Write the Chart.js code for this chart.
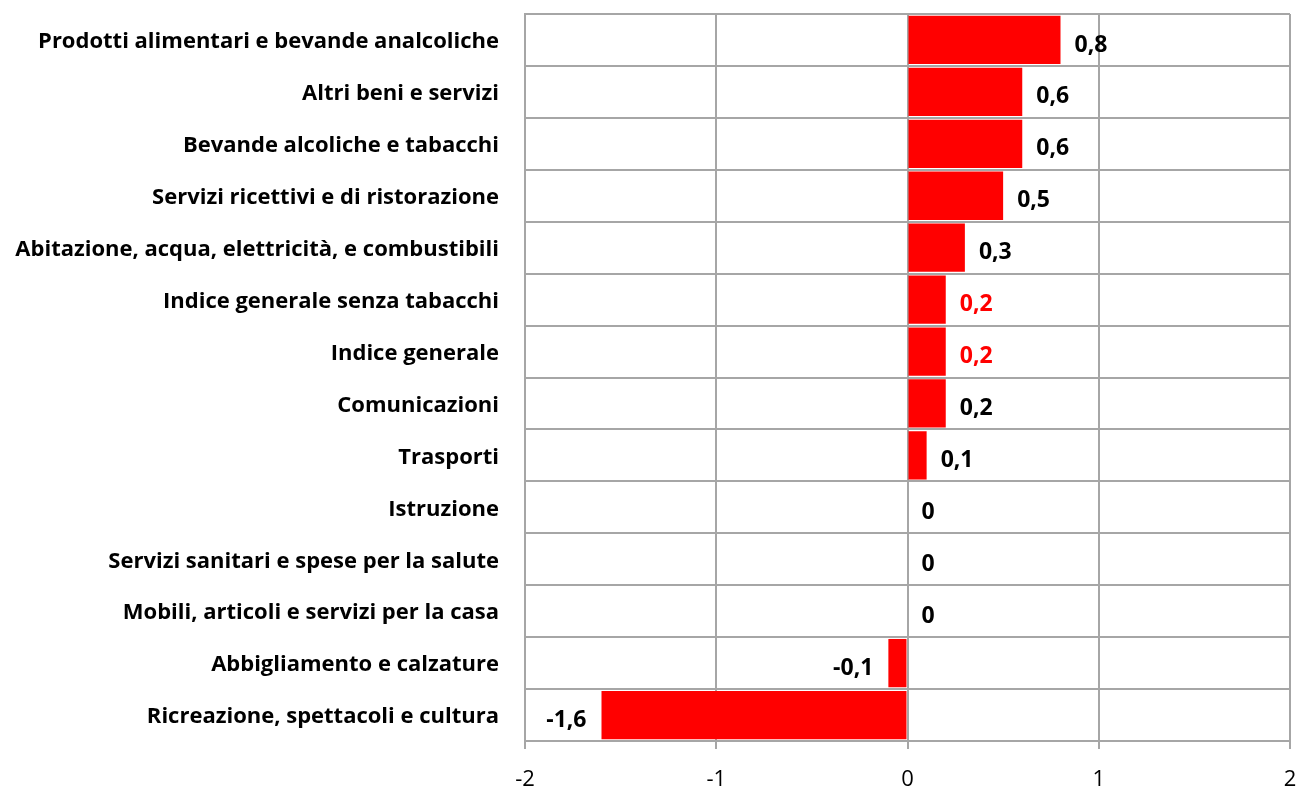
<!DOCTYPE html>
<html lang="it">
<head>
  <meta charset="UTF-8">
  <title>Variazioni per divisione di spesa</title>
  <script src="https://cdn.jsdelivr.net/npm/chart.js"></script>
  <style>
    body { margin: 0; background: #ffffff; }
    #wrap { width: 1298px; height: 787px; }
  </style>
</head>
<body>
  <div id="wrap"><canvas id="chart" width="1298" height="787"></canvas></div>

  <script>
    const categories = [
      "Prodotti alimentari e bevande analcoliche",
      "Altri beni e servizi",
      "Bevande alcoliche e tabacchi",
      "Servizi ricettivi e di ristorazione",
      "Abitazione, acqua, elettricità, e combustibili",
      "Indice generale senza tabacchi",
      "Indice generale",
      "Comunicazioni",
      "Trasporti",
      "Istruzione",
      "Servizi sanitari e spese per la salute",
      "Mobili, articoli e servizi per la casa",
      "Abbigliamento e calzature",
      "Ricreazione, spettacoli e cultura"
    ];
    const values = [0.8, 0.6, 0.6, 0.5, 0.3, 0.2, 0.2, 0.2, 0.1, 0, 0, 0, -0.1, -1.6];
    const highlighted = ["Indice generale senza tabacchi", "Indice generale"];
    const xTicks = [-2, -1, 0, 1, 2];

    const FONT = "'Open Sans', Lato, sans-serif";
    const GRID = '#a6a6a6';

    const fmt = v => String(v).replace('.', ',');

    // value labels next to bar ends
    const barLabels = {
      id: 'barLabels',
      afterDatasetsDraw(chart) {
        const ctx = chart.ctx;
        const meta = chart.getDatasetMeta(0);
        ctx.save();
        ctx.font = 'bold 23px ' + FONT;
        ctx.textBaseline = 'middle';
        meta.data.forEach((bar, i) => {
          const v = values[i];
          ctx.fillStyle = highlighted.includes(categories[i]) ? '#ff0000' : '#000000';
          if (v < 0) {
            ctx.textAlign = 'right';
            ctx.fillText(fmt(v), bar.x - 15, bar.y + 5);
          } else {
            ctx.textAlign = 'left';
            ctx.fillText(fmt(v), bar.x + 14, bar.y + 5);
          }
        });
        ctx.restore();
      }
    };

    new Chart(document.getElementById('chart'), {
      type: 'bar',
      data: {
        labels: categories,
        datasets: [{
          data: values,
          backgroundColor: '#ff0000',
          borderWidth: 0,
          barPercentage: 0.93,
          categoryPercentage: 1
        }]
      },
      plugins: [barLabels],
      options: {
        indexAxis: 'y',
        responsive: false,
        animation: false,
        layout: { padding: { top: 14, right: 8, left: 0, bottom: 0 } },
        plugins: {
          legend: { display: false },
          tooltip: { enabled: false }
        },
        scales: {
          x: {
            min: -2,
            max: 2,
            afterBuildTicks: scale => { scale.ticks = xTicks.map(v => ({ value: v })); },
            afterFit: scale => {
              scale.height = 46;
              scale.paddingLeft = 0;
              scale.paddingRight = 0;
            },
            grid: { color: GRID, lineWidth: 2, tickLength: 8 },
            border: { color: GRID, width: 2 },
            ticks: {
              padding: 18,
              color: '#000000',
              font: { family: FONT, size: 22 },
              callback: v => String(v)
            }
          },
          y: {
            afterFit: scale => {
              scale.width = 525;
              scale.paddingTop = 0;
              scale.paddingBottom = 0;
            },
            grid: { color: GRID, lineWidth: 2, offset: true, drawTicks: false },
            border: { color: GRID, width: 2 },
            ticks: {
              padding: 26,
              labelOffset: 2,
              color: '#000000',
              font: { family: FONT, size: 22, weight: 'bold' }
            }
          }
        }
      }
    });
  </script>
</body>
</html>
